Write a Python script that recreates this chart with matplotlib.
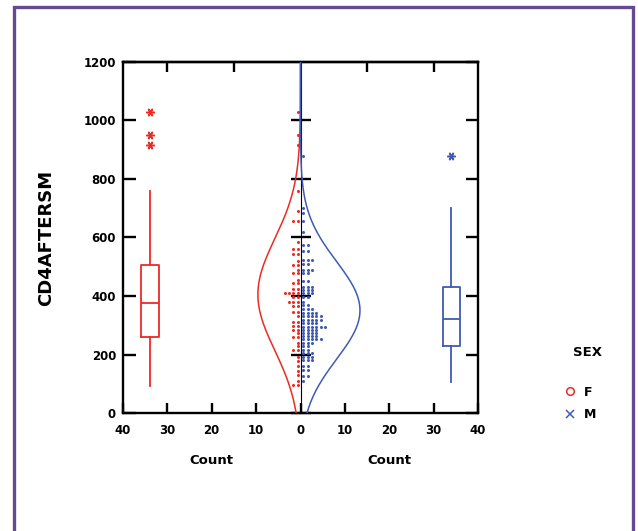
import numpy as np
import matplotlib
matplotlib.use("Agg")
import matplotlib.pyplot as plt
from matplotlib.lines import Line2D
from matplotlib.patches import Rectangle

# ---------------- data ----------------
sexes = ["F", "M"]
sex_colors = ["#EE2A24", "#3F5BB5"]

# dot-density rows: value and number of stacked dots
F_row_values = [1030, 950, 915, 760, 690, 655, 585, 560, 545, 520, 505, 490, 478,
                455, 443, 425, 409, 395, 381, 365, 346, 330, 312, 297, 284, 272,
                261, 240, 228, 215, 193, 178, 160, 145, 130, 110, 96]
F_row_counts = [1, 1, 1, 1, 1, 2, 1, 2, 2, 1, 2, 1, 2,
                1, 2, 2, 4, 2, 3, 2, 2, 1, 2, 2, 2, 1,
                2, 1, 1, 2, 1, 1, 1, 1, 1, 1, 2]
M_row_values = [880, 702, 683, 655, 620, 574, 555, 523, 510, 489, 478, 450, 430,
                420, 410, 395, 380, 369, 355, 342, 330, 318, 307, 295, 285, 274,
                262, 252, 240, 228, 215, 205, 193, 180, 160, 148, 125, 110]
M_row_counts = [1, 1, 1, 1, 1, 2, 2, 3, 2, 3, 2, 2, 3,
                3, 3, 2, 1, 2, 3, 4, 5, 5, 4, 6, 4, 4,
                4, 5, 3, 2, 2, 3, 3, 3, 2, 2, 2, 1]

# fitted normal curves: mean, sd, peak height (count)
F_norm = (405, 190, 9.6)
M_norm = (351, 167, 13.4)

# box plot summaries
F_box = dict(med=377, q1=261, q3=506, whislo=92, whishi=760, fliers=[1030, 950, 915])
M_box = dict(med=321, q1=229, q3=432, whislo=107, whishi=702, fliers=[879])

y_ticks = [0, 200, 400, 600, 800, 1000, 1200]
x_ticks = [-40, -30, -20, -10, 0, 10, 20, 30, 40]
x_ticklabels = ["40", "30", "20", "10", "0", "10", "20", "30", "40"]
top_ticks = [-30, -15, 15, 30]
y_label = "CD4AFTERSM"
x_label = "Count"
legend_title = "SEX"

# ---------------- figure ----------------
W, H = 638, 531
fig = plt.figure(figsize=(W / 100, H / 100), dpi=100)
fig.patch.set_facecolor("white")

# purple frame
fig.patches.append(Rectangle((14 / W, -0.05), (633 - 14) / W, (H - 7) / H + 0.05,
                             transform=fig.transFigure, fill=False,
                             edgecolor="#654A93", linewidth=2.4, zorder=0))

ax = fig.add_axes([123 / W, 1 - 413 / H, 355 / W, 351 / H])
ax.set_xlim(-40, 40)
ax.set_ylim(0, 1200)

fontkw = dict(family="DejaVu Sans", weight="bold")

# normal curves
yy = np.linspace(0, 1200, 400)
for sign, (m, s, pk), c, z in [(-1, F_norm, sex_colors[0], 3), (1, M_norm, sex_colors[1], 4)]:
    ax.plot(sign * pk * np.exp(-0.5 * ((yy - m) / s) ** 2), yy, color=c, lw=1.1, zorder=z)

# dot densities
for sign, vals, cnts, c in [(-1, F_row_values, F_row_counts, sex_colors[0]),
                            (1, M_row_values, M_row_counts, sex_colors[1])]:
    xs, ys = [], []
    for v, n in zip(vals, cnts):
        for k in range(n):
            xs.append(sign * (k + 0.6))
            ys.append(v)
    ax.plot(xs, ys, linestyle="none", marker="o", ms=2.2, mew=0, color=c, zorder=5)

# box plots
for st, pos, c in [(F_box, -34, sex_colors[0]), (M_box, 34, sex_colors[1])]:
    ax.bxp([st], positions=[pos], widths=4, showcaps=False, manage_ticks=False,
           boxprops=dict(color=c, lw=1.3),
           whiskerprops=dict(color=c, lw=1.3),
           medianprops=dict(color=c, lw=1.3),
           flierprops=dict(marker=(6, 2, 90), markersize=6, markeredgecolor=c,
                           markerfacecolor=c, markeredgewidth=1.1, linestyle="none"))

# axes styling
for sp in ax.spines.values():
    sp.set_linewidth(1.7)
ax.set_yticks(y_ticks)
ax.set_yticklabels([str(v) for v in y_ticks], **fontkw, fontsize=8.5)
ax.set_xticks(x_ticks)
ax.set_xticklabels(x_ticklabels, **fontkw, fontsize=8.5)
ax.tick_params(axis="y", direction="in", length=9, width=1.7, right=True, pad=5)
ax.tick_params(axis="x", direction="in", length=7, width=1.7, pad=8)

top = ax.secondary_xaxis("top")
top.set_xticks(top_ticks)
top.set_xticklabels([])
top.tick_params(direction="in", length=7, width=1.7)
top.spines["top"].set_linewidth(1.7)

mid = ax.secondary_yaxis(0.5)
mid.set_yticks(y_ticks[:-1])
mid.set_yticklabels([])
mid.tick_params(direction="inout", length=15, width=1.7)
mid.spines["left"].set_linewidth(1.7)

# labels
fig.text(46 / W, 1 - 237.5 / H, y_label, rotation=90, ha="center", va="center",
         fontsize=13, **fontkw)
for xc in (0.25, 0.75):
    ax.text(xc, -(461 - 413) / 351, x_label, transform=ax.transAxes, ha="center",
            va="center", fontsize=9.5, **fontkw)

# legend
fig.text(587 / W, 1 - 352 / H, legend_title, ha="center", va="center", fontsize=9.5, **fontkw)
handles = [Line2D([], [], linestyle="none", marker="o", mfc="none", mec=sex_colors[0], ms=5.5, mew=1.1),
           Line2D([], [], linestyle="none", marker="x", color=sex_colors[1], ms=6, mew=1.1)]
fig.legend(handles, sexes, loc="center", bbox_to_anchor=(580 / W, 1 - 403.5 / H),
           frameon=False, prop=dict(family="DejaVu Sans", weight="bold", size=9),
           handlelength=1.0, handletextpad=0.6, labelspacing=0.75)

fig.savefig("out.png", dpi=100, facecolor="white")
